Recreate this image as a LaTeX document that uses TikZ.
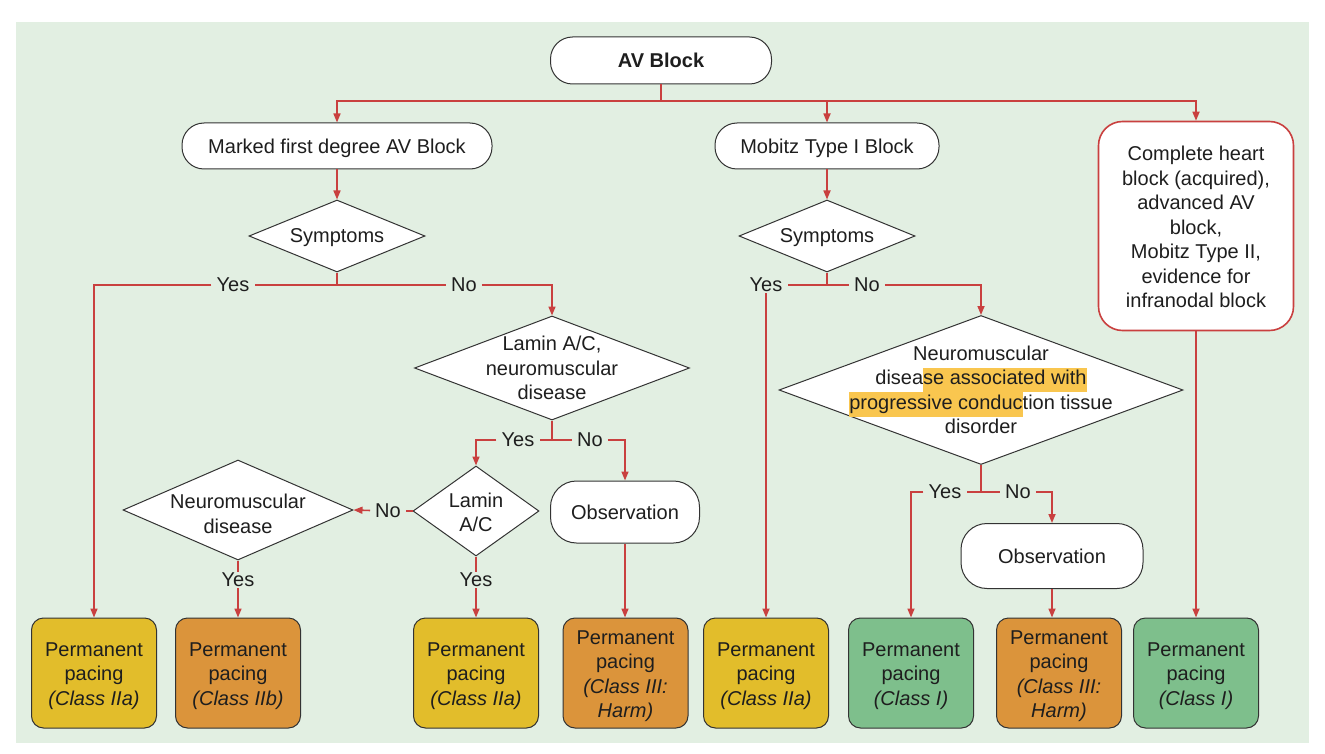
\documentclass[tikz,border=0pt]{standalone}
\usepackage{fontspec}
\setmainfont{Liberation Sans}
\usetikzlibrary{shapes.geometric,arrows.meta}
\definecolor{bg}{HTML}{E2EFE2}
\definecolor{lr}{HTML}{C9403F}
\definecolor{bd}{HTML}{333333}
\definecolor{yel}{HTML}{E2BD2B}
\definecolor{org}{HTML}{DB943B}
\definecolor{grn}{HTML}{7EBF8C}
\definecolor{hl}{HTML}{F9C64F}
\definecolor{tx}{HTML}{1E1E1E}
\newcommand\hlt[1]{{\setlength{\fboxsep}{0pt}\colorbox{hl}{\strut#1}}}
\newcommand\fs{\fontsize{20}{24.5}\selectfont}
\newcommand\T{\rule{0pt}{20pt}}
\begin{document}
\begin{tikzpicture}[x=1pt,y=-1pt,font=\fs,
  every node/.style={text=tx},
  pill/.style={draw=bd, fill=white, rounded corners=22pt, line width=1pt, inner sep=0pt, text depth=0pt},
  dia/.style={draw=bd, fill=white, diamond, line width=1pt, inner sep=0pt},
  res/.style={draw=bd, rounded corners=12pt, line width=1pt, minimum width=125pt, minimum height=110pt, align=center, inner sep=0pt},
  conn/.style={draw=lr, line width=1.6pt},
  arr/.style={conn, -{Triangle[length=9pt,width=7pt]}},
  lbl/.style={fill=bg, inner xsep=5pt, inner ysep=1pt, text depth=0pt}
]
\useasboundingbox (0,0) rectangle (1325,754);
\fill[white] (0,0) rectangle (1325,754);
\fill[bg] (16,22) rectangle (1309,743);

% top level
\node[pill, minimum width=221pt, minimum height=47pt, font=\fs\bfseries] (av) at (661,60.5) {AV Block};
\coordinate (j0) at (661,101);
\node[pill, minimum width=310pt, minimum height=46pt] (mfd) at (337,146) {Marked first degree AV Block};
\node[pill, minimum width=224pt, minimum height=46pt] (mob) at (827,146) {Mobitz Type I Block};
\node[draw=lr, line width=1.6pt, fill=white, rounded corners=24pt, minimum width=195pt, minimum height=209pt, align=center, inner sep=0pt] (chb) at (1196,226)
  {\rule{0pt}{17pt}Complete heart\\block (acquired),\\advanced AV\\block,\\Mobitz Type II,\\evidence for\\infranodal block};

% diamonds
\node[dia, minimum width=176pt, minimum height=72pt, label={[text depth=0pt]center:Symptoms}] (s1) at (337,236) {};
\node[dia, minimum width=176pt, minimum height=72pt, label={[text depth=0pt]center:Symptoms}] (s2) at (827,236) {};
\node[dia, minimum width=275pt, minimum height=104pt, label={[align=center]center:{Lamin A/C,\\neuromuscular\\disease}}] (lnd) at (552,368) {};
\node[dia, minimum width=126pt, minimum height=90pt, label={[align=center, yshift=-1.5pt]center:{Lamin\\A/C}}] (lam) at (476,511) {};
\node[dia, minimum width=230pt, minimum height=100pt, label={[align=center, yshift=-4pt]center:{Neuromuscular\\disease}}] (nd) at (238,510) {};
\node[dia, minimum width=404pt, minimum height=149pt, label={[align=center]center:{Neuromuscular\\disea\hlt{se associated with}\\\hlt{progressive conduc}tion tissue\\disorder}}] (nmd) at (981,390) {};

% observations
\node[pill, rounded corners=26pt, minimum width=149pt, minimum height=62pt] (ob1) at (625,512) {Observation};
\node[pill, rounded corners=26pt, minimum width=182pt, minimum height=65pt] (ob2) at (1052,556) {Observation};

% results
\node[res, fill=yel] (b1) at (94,673) {\T Permanent\\pacing\\\textit{(Class IIa)}};
\node[res, fill=org] (b2) at (238,673) {\T Permanent\\pacing\\\textit{(Class IIb)}};
\node[res, fill=yel] (b3) at (476,673) {\T Permanent\\pacing\\\textit{(Class IIa)}};
\node[res, fill=org] (b4) at (625.5,673) {\T Permanent\\pacing\\\textit{(Class III:}\\\textit{Harm)}};
\node[res, fill=yel] (b5) at (766,673) {\T Permanent\\pacing\\\textit{(Class IIa)}};
\node[res, fill=grn] (b6) at (911,673) {\T Permanent\\pacing\\\textit{(Class I)}};
\node[res, fill=org] (b7) at (1059,673) {\T Permanent\\pacing\\\textit{(Class III:}\\\textit{Harm)}};
\node[res, fill=grn] (b8) at (1196,673) {\T Permanent\\pacing\\\textit{(Class I)}};

% junctions and labels
\coordinate (j1) at (337,285);
\coordinate (j2) at (552,440);
\coordinate (j3) at (827,285);
\coordinate (j4) at (981,492);
\node[lbl] (y1) at (233,285) {Yes};
\node[lbl] (n1) at (464,285) {No};
\node[lbl] (y2) at (518,440) {Yes};
\node[lbl] (n2) at (590,440) {No};
\node[lbl] (n3) at (388,511) {No};
\node[lbl] (y3) at (476,580) {Yes};
\node[lbl] (y4) at (238,580) {Yes};
\node[lbl] (y5) at (766,285) {Yes};
\node[lbl] (n5) at (867,285) {No};
\node[lbl] (y6) at (945,492) {Yes};
\node[lbl] (n6) at (1018,492) {No};

% connectors
\draw[conn] (av.south) -- (j0);
\draw[arr] (j0) -| (mfd.north);
\draw[arr] (j0) -| (mob.north);
\draw[arr] (j0) -| (chb.north);
\draw[arr] (mfd.south) -- (s1.north);
\draw[conn] (s1.south) -- (j1) -- (y1);
\draw[conn] (j1) -- (n1);
\draw[arr] (y1) -| (b1.north);
\draw[arr] (n1) -| (lnd.north);
\draw[conn] (lnd.south) -- (j2) -- (y2);
\draw[conn] (j2) -- (n2);
\draw[arr] (y2) -| (lam.north);
\draw[arr] (n2) -| (ob1.north);
\draw[conn] (lam.west) -- (n3);
\draw[arr] (n3) -- (nd.east);
\draw[conn] (lam.south) -- (y3);
\draw[arr] (y3) -- (b3.north);
\draw[conn] (nd.south) -- (y4);
\draw[arr] (y4) -- (b2.north);
\draw[arr] (ob1.south) -- (ob1.south |- b4.north);
\draw[arr] (mob.south) -- (s2.north);
\draw[conn] (s2.south) -- (j3) -- (y5);
\draw[conn] (j3) -- (n5);
\draw[arr] (y5) -- (b5.north);
\draw[arr] (n5) -| (nmd.north);
\draw[conn] (nmd.south) -- (j4) -- (y6);
\draw[conn] (j4) -- (n6);
\draw[arr] (y6) -| (b6.north);
\draw[arr] (n6) -| (ob2.north);
\draw[arr] (ob2.south) -- (ob2.south |- b7.north);
\draw[arr] (chb.south) -- (b8.north);
\end{tikzpicture}
\end{document}
